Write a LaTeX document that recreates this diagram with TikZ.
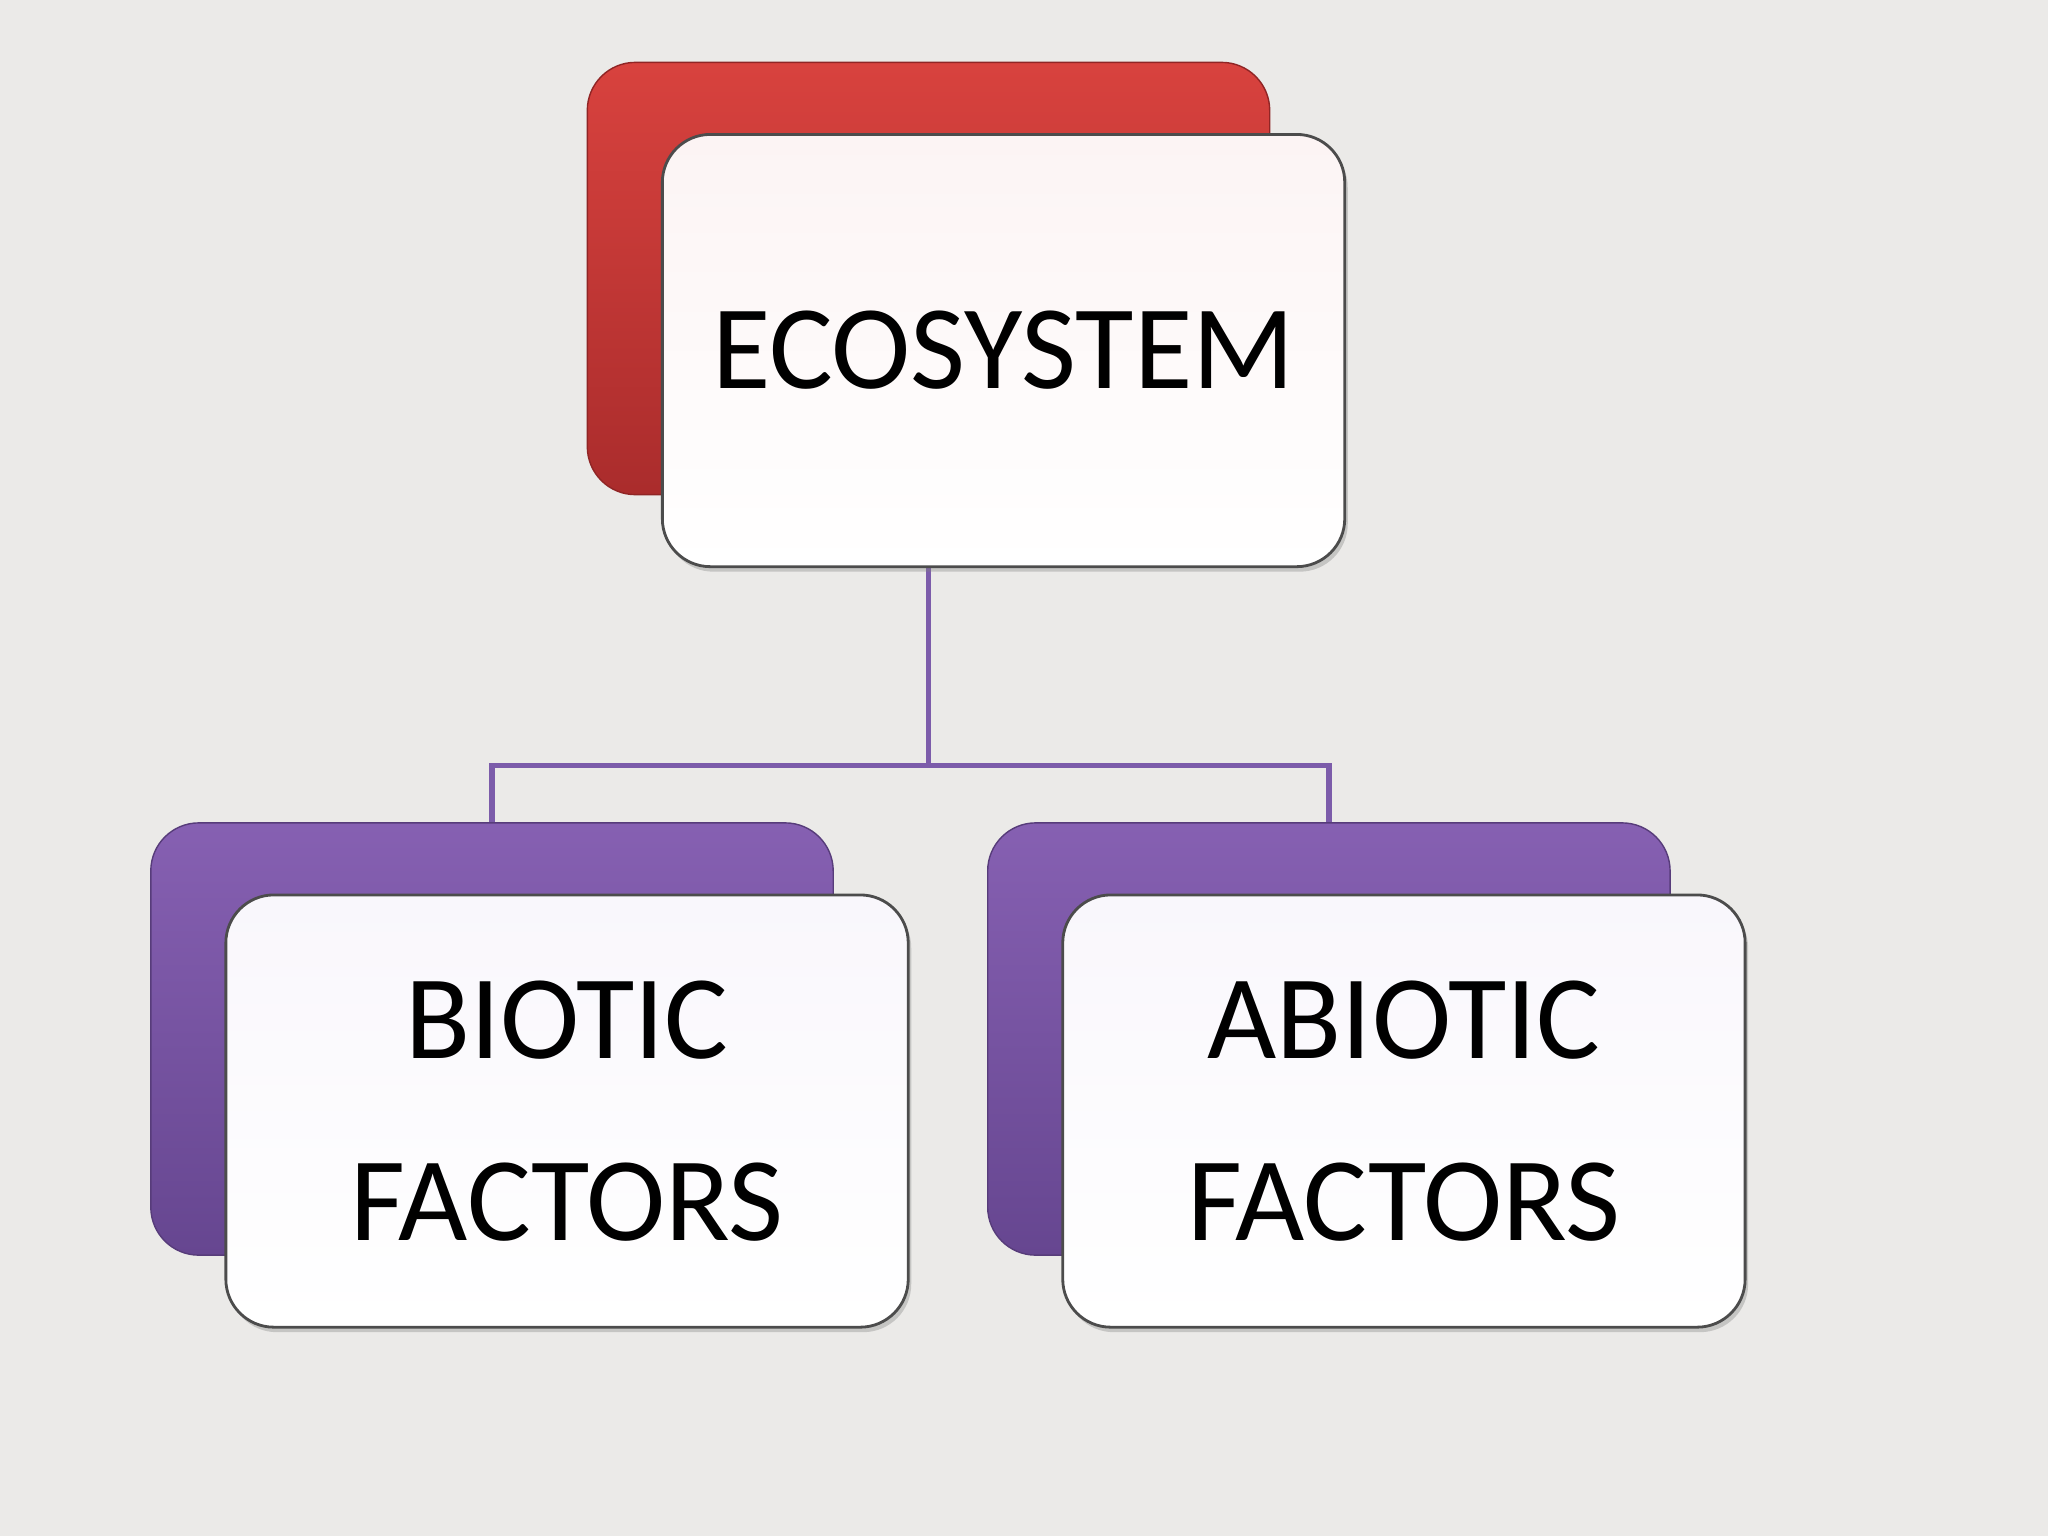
\documentclass[tikz,border=0pt]{standalone}
\usepackage{fontspec}
\setmainfont{Carlito}
\usepackage{xcolor}
\usepackage{tikz}
\usetikzlibrary{positioning}
\usetikzlibrary{shadows}
\definecolor{paper}{RGB}{235,234,232}
\definecolor{ecored}{RGB}{216,66,62}
\definecolor{ecoreddark}{RGB}{170,44,44}
\definecolor{ecofront}{RGB}{252,244,244}
\definecolor{factpurple}{RGB}{134,96,178}
\definecolor{factpurpledark}{RGB}{102,70,144}
\definecolor{factfront}{RGB}{249,247,252}
\definecolor{linkpurple}{RGB}{124,92,170}
\tikzset{edge/.style = {draw=linkpurple, line width=1.5pt}}

\begin{document}
\begin{tikzpicture}[x=0.01cm,y=-0.01cm,
    back node/.style={rounded corners=0.48cm, minimum width=6.82cm, minimum height=4.32cm, inner sep=0pt},
    front node/.style={back node, draw=black!70, line width=0.8pt,
        drop shadow={shadow xshift=0.03cm, shadow yshift=-0.05cm, opacity=0.35},
        align=center, font=\fontsize{34}{52}\selectfont, xshift=0.75cm, yshift=-0.72cm}]
  \fill[paper] (0,0) rectangle (2048,1536);
  % back boxes
  \node[back node, draw=ecoreddark!85!black, top color=ecored, bottom color=ecoreddark] (1) at (928.5,278.5) {};
  \node[back node, draw=factpurpledark!85!black, top color=factpurple, bottom color=factpurpledark] (2) at (492,1039) {};
  \node[back node, draw=factpurpledark!85!black, top color=factpurple, bottom color=factpurpledark] (3) [right=1.53cm of 2] {};
  % connectors
  \path (1.south) ++(0,270) coordinate (j);
  \draw[edge] (1.south) -- (j) -| (2.north);
  \draw[edge] (j) -| (3.north);
  % front boxes
  \node[front node, top color=ecofront, bottom color=white] (1f) at (1) {ECOSYSTEM};
  \node[front node, top color=factfront, bottom color=white] (2f) at (2) {BIOTIC\\FACTORS};
  \node[front node, top color=factfront, bottom color=white] (3f) at (3) {ABIOTIC\\FACTORS};
\end{tikzpicture}
\end{document}
